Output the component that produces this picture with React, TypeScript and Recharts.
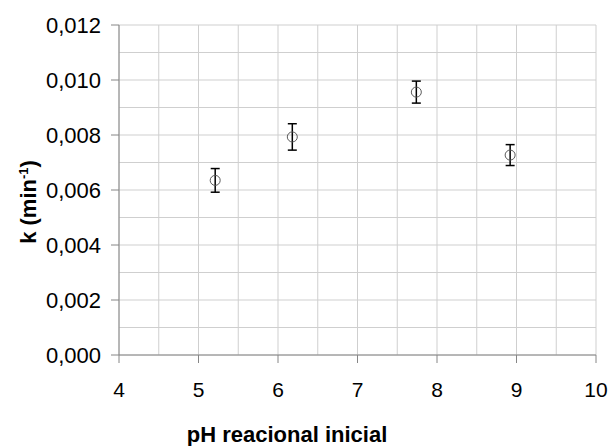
import React from 'react';
import { ScatterChart, Scatter, XAxis, YAxis, CartesianGrid, ErrorBar, Label } from 'recharts';

// Initial reaction pH vs. rate constant k (min^-1), with standard deviation
const phValues = [5.21, 6.18, 7.74, 8.92];
const kValues = [0.00635, 0.00793, 0.00956, 0.00727];
const kErrors = [0.00043, 0.00048, 0.0004, 0.00038];

const xTicks = [4, 4.5, 5, 5.5, 6, 6.5, 7, 7.5, 8, 8.5, 9, 9.5, 10];
const yTicks = [0, 1, 2, 3, 4, 5, 6, 7, 8, 9, 10, 11, 12].map((i) => i / 1000);

const data = phValues.map((ph, i) => ({ ph, k: kValues[i], err: kErrors[i] }));

const FONT = '"Liberation Sans", Arial, sans-serif';
const AXIS_COLOR = '#868686';

const XTick = (props: any) => {
  const { x, y, payload } = props;
  const v = payload.value as number;
  if (!Number.isInteger(v)) return <g />;
  return (
    <g>
      <line x1={x} x2={x} y1={y} y2={y + 8} stroke={AXIS_COLOR} strokeWidth={1} />
      <text x={x} y={y + 42} textAnchor="middle" fontFamily={FONT} fontSize={21} fill="#000">
        {String(v)}
      </text>
    </g>
  );
};

const YTick = (props: any) => {
  const { x, y, payload } = props;
  const v = payload.value as number;
  if (Math.round(v * 1000) % 2 !== 0) return <g />;
  return (
    <g>
      <line x1={x - 8} x2={x} y1={y} y2={y} stroke={AXIS_COLOR} strokeWidth={1} />
      <text x={x - 18} y={y} dy="0.36em" textAnchor="end" fontFamily={FONT} fontSize={22} fill="#000">
        {v.toFixed(3).replace('.', ',')}
      </text>
    </g>
  );
};

const Marker = (props: any) => {
  const { cx, cy } = props;
  return <circle cx={cx} cy={cy} r={5} fill="none" stroke="#5a5a5a" strokeWidth={1} />;
};

export default function App() {
  return (
    <div style={{ position: 'absolute', left: 0, top: 0, background: '#fff' }}>
      <ScatterChart width={610} height={446} margin={{ top: 25, right: 14, bottom: 0, left: 0 }}>
        <CartesianGrid stroke="#cfcfcf" strokeWidth={1} />
        <XAxis
          type="number"
          dataKey="ph"
          domain={[4, 10]}
          ticks={xTicks}
          interval={0}
          height={91}
          tickSize={0}
          tickMargin={0}
          tickLine={false}
          axisLine={{ stroke: AXIS_COLOR }}
          tick={<XTick />}
        >
          <Label
            content={() => (
              <text x={287} y={442} textAnchor="middle" fontFamily={FONT} fontSize={22} fontWeight="bold" fill="#000">
                pH reacional inicial
              </text>
            )}
          />
        </XAxis>
        <YAxis
          type="number"
          dataKey="k"
          domain={[0, 0.012]}
          ticks={yTicks}
          interval={0}
          width={119}
          tickSize={0}
          tickMargin={0}
          tickLine={false}
          axisLine={{ stroke: AXIS_COLOR }}
          tick={<YTick />}
        >
          <Label
            content={() => (
              <text
                x={0}
                y={0}
                transform="translate(36, 202) rotate(-90)"
                textAnchor="middle"
                fontFamily={FONT}
                fontSize={22}
                fontWeight="bold"
                fill="#000"
              >
                k (min
                <tspan dy={-8} fontSize={13}>-1</tspan>
                <tspan dy={8}>)</tspan>
              </text>
            )}
          />
        </YAxis>
        <Scatter data={data} shape={<Marker />} isAnimationActive={false}>
          <ErrorBar dataKey="err" direction="y" width={4.5} stroke="#000" strokeWidth={1.5} isAnimationActive={false} />
        </Scatter>
      </ScatterChart>
    </div>
  );
}
